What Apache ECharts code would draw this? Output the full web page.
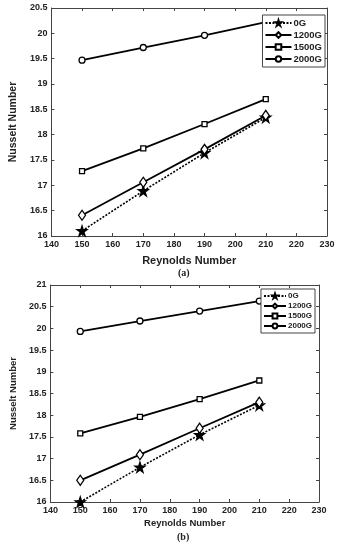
<!DOCTYPE html>
<html><head><meta charset="utf-8">
<script src="https://cdn.jsdelivr.net/npm/echarts@6/dist/echarts.min.js"></script>
<style>html,body{margin:0;padding:0;background:#fff}#c{width:340px;height:550px}</style>
</head><body><div id="c"></div>
<script>
const reynolds = [150, 170, 190, 210];
const seriesNames = ['0G', '1200G', '1500G', '2000G'];
// panel (a)
const a_0G    = [16.10, 16.89, 17.64, 18.34];
const a_1200G = [16.41, 17.06, 17.71, 18.38];
const a_1500G = [17.28, 17.73, 18.21, 18.70];
const a_2000G = [19.47, 19.72, 19.96, 20.22];
// panel (b)
const b_0G    = [16.00, 16.80, 17.55, 18.23];
const b_1200G = [16.50, 17.09, 17.70, 18.30];
const b_1500G = [17.58, 17.96, 18.37, 18.80];
const b_2000G = [19.93, 20.17, 20.40, 20.63];

const xTicks = {min: 140, max: 230, interval: 10};
const aY = {min: 16, max: 20.5, interval: 0.5};
const bY = {min: 16, max: 21, interval: 0.5};

const starPath = 'path://M50,0 L61.8,36.2 L100,36.2 L69.1,58.6 L80.9,95.1 L50,72.6 L19.1,95.1 L30.9,58.6 L0,36.2 L38.2,36.2 Z';

const styles = {
  '0G':    {symbol: starPath, symbolSize: 10, line: {type: [2, 1.5], width: 1.6}, fill: '#000'},
  '1200G': {symbol: 'diamond', symbolSize: [7, 10], line: {type: 'solid', width: 1.8}, fill: '#fff'},
  '1500G': {symbol: 'rect', symbolSize: 5, line: {type: 'solid', width: 1.8}, fill: '#fff'},
  '2000G': {symbol: 'circle', symbolSize: 6, line: {type: 'solid', width: 1.8}, fill: '#fff'}
};

function mk(name, vals, xi, yi) {
  const s = styles[name];
  return {
    name: name, type: 'line', xAxisIndex: xi, yAxisIndex: yi,
    data: reynolds.map((r, i) => [r, vals[i]]),
    symbol: s.symbol, symbolSize: s.symbolSize, showAllSymbol: true,
    itemStyle: {color: s.fill, borderColor: '#000', borderWidth: 1.3},
    lineStyle: {color: '#000', width: s.line.width, type: s.line.type},
    emphasis: {disabled: true}, animation: false, z: 3
  };
}

const tickFont = {fontFamily: 'Liberation Sans, Arial', fontSize: 9, fontWeight: 'bold', color: '#222'};
const nameFont = {fontFamily: 'Liberation Sans, Arial', fontWeight: 'bold', color: '#222'};

function xAx(gi, fs, gap, show) {
  return {
    type: 'value', gridIndex: gi, min: xTicks.min, max: xTicks.max, interval: xTicks.interval,
    position: show ? 'bottom' : 'top',
    axisLine: {show: true, onZero: false, lineStyle: {color: '#444', width: 1}},
    axisTick: {show: true, inside: true, length: 3, lineStyle: {color: '#444'}},
    axisLabel: show ? Object.assign({show: true, margin: 4}, tickFont) : {show: false},
    splitLine: {show: false},
    name: show ? 'Reynolds Number' : '', nameLocation: 'middle', nameGap: show ? gap : 0,
    nameTextStyle: Object.assign({fontSize: fs}, nameFont)
  };
}
function yAx(gi, r, fs, gap, show) {
  return {
    type: 'value', gridIndex: gi, min: r.min, max: r.max, interval: r.interval,
    position: show ? 'left' : 'right',
    axisLine: {show: true, onZero: false, lineStyle: {color: '#444', width: 1}},
    axisTick: {show: true, inside: true, length: 3, lineStyle: {color: '#444'}},
    axisLabel: show ? Object.assign({show: true, margin: 4}, tickFont) : {show: false},
    splitLine: {show: false},
    name: show ? 'Nusselt Number' : '', nameLocation: 'middle', nameGap: gap, nameRotate: 90,
    nameTextStyle: Object.assign({fontSize: fs}, nameFont)
  };
}

function legend(top, right, fs, iw, ih) {
  return {
    data: seriesNames, orient: 'vertical', top: top, right: right,
    itemWidth: iw, itemHeight: ih, itemGap: 2,
    backgroundColor: '#fff', borderColor: '#444', borderWidth: 1, padding: [3, 3, 3, 2],
    textStyle: Object.assign({fontSize: fs, padding: [0, 0, 0, -3]}, nameFont),
    selectedMode: false
  };
}

const chart = echarts.init(document.getElementById('c'), null, {renderer: 'canvas'});
chart.setOption({
  animation: false,
  backgroundColor: '#fff',
  grid: [
    {left: 39, right: 13, top: 8, height: 228},
    {left: 47, right: 21, top: 285, height: 217}
  ],
  xAxis: [xAx(0, 11, 19, true), xAx(0, 11, 0, false), xAx(1, 9.5, 16, true), xAx(1, 9.5, 0, false)],
  yAxis: [yAx(0, aY, 10.5, 25, true), yAx(0, aY, 10.5, 0, false), yAx(1, bY, 9.5, 21, true), yAx(1, bY, 9.5, 0, false)],
  legend: [legend(15, 15, 9.5, 26, 7), legend(289, 25, 8, 22, 6)],
  series: [
    mk('0G', a_0G, 0, 0), mk('1200G', a_1200G, 0, 0), mk('1500G', a_1500G, 0, 0), mk('2000G', a_2000G, 0, 0),
    mk('0G', b_0G, 2, 2), mk('1200G', b_1200G, 2, 2), mk('1500G', b_1500G, 2, 2), mk('2000G', b_2000G, 2, 2)
  ],
  graphic: [
    {type: 'text', left: 178, top: 268, style: {text: '(a)', font: 'bold 10px "Liberation Serif", serif', fill: '#222', textAlign: 'center'}},
    {type: 'text', left: 177, top: 532, style: {text: '(b)', font: 'bold 10px "Liberation Serif", serif', fill: '#222', textAlign: 'center'}}
  ]
});
</script></body></html>
